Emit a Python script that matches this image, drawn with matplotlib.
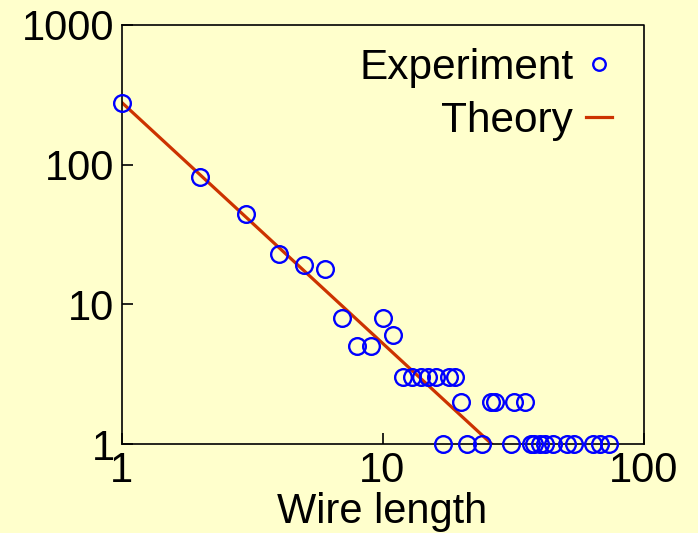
import matplotlib.pyplot as plt

plt.rcParams["font.family"] = ["Liberation Sans", "DejaVu Sans"]

# wire length histogram (counts per length)
exp_x = [1, 2, 3, 4, 5, 6, 7, 8, 9, 10, 11,
         12, 13, 14, 15, 16, 18, 19,
         20, 26, 27, 32, 35,
         17, 21, 24, 31, 37, 38, 40, 42, 45, 51, 54, 64, 68, 74]
exp_y = [275, 81, 44, 23, 19, 18, 8, 5, 5, 8, 6,
         3, 3, 3, 3, 3, 3, 3,
         2, 2, 2, 2, 2,
         1, 1, 1, 1, 1, 1, 1, 1, 1, 1, 1, 1, 1, 1]

# theory: power law, drawn between its end points
theory_x = [1, 26.2]
theory_y = [280, 1]

x_ticks = [1, 10, 100]
y_ticks = [1, 10, 100, 1000]

bg = "#FFFFCC"
fig = plt.figure(figsize=(6.98, 5.33), dpi=100, facecolor=bg)
ax = fig.add_axes([121.5 / 698, 89 / 533, 522 / 698, 419 / 533], facecolor=bg)

ax.plot(theory_x, theory_y, color="#CC3300", linewidth=2.3, label="Theory", zorder=2)
ax.plot(exp_x, exp_y, linestyle="none", marker="o", markersize=12,
        markerfacecolor="none", markeredgecolor="#0000FF", markeredgewidth=1.7,
        label="Experiment", clip_on=False, zorder=3)

ax.set_xscale("log")
ax.set_yscale("log")
ax.set_xlim(1, 100)
ax.set_ylim(1, 1000)
ax.set_xticks(x_ticks)
ax.set_xticklabels([str(t) for t in x_ticks])
ax.set_yticks(y_ticks)
ax.set_yticklabels([str(t) for t in y_ticks])
ax.minorticks_off()
ax.tick_params(direction="in", length=8, width=1.2, labelsize=30, pad=5)

for s in ax.spines.values():
    s.set_linewidth(1.2)
ax.spines["top"].set_visible(False)
ax.spines["right"].set_visible(False)
ax.plot([0, 1, 1], [1, 1, 0], transform=ax.transAxes, color="black",
        linewidth=1.2, clip_on=False)

ax.set_xlabel("Wire length", fontsize=30, labelpad=1)

handles, labels = ax.get_legend_handles_labels()
ax.legend(handles[::-1], labels[::-1], loc="upper right",
          bbox_to_anchor=(0.94, 0.945), frameon=False, markerfirst=False,
          fontsize=30.5, handlelength=0.62, handletextpad=0.3,
          labelspacing=0.3, borderpad=0, borderaxespad=0, markerscale=0.75)

fig.savefig("out.png", dpi=100, facecolor=bg)
